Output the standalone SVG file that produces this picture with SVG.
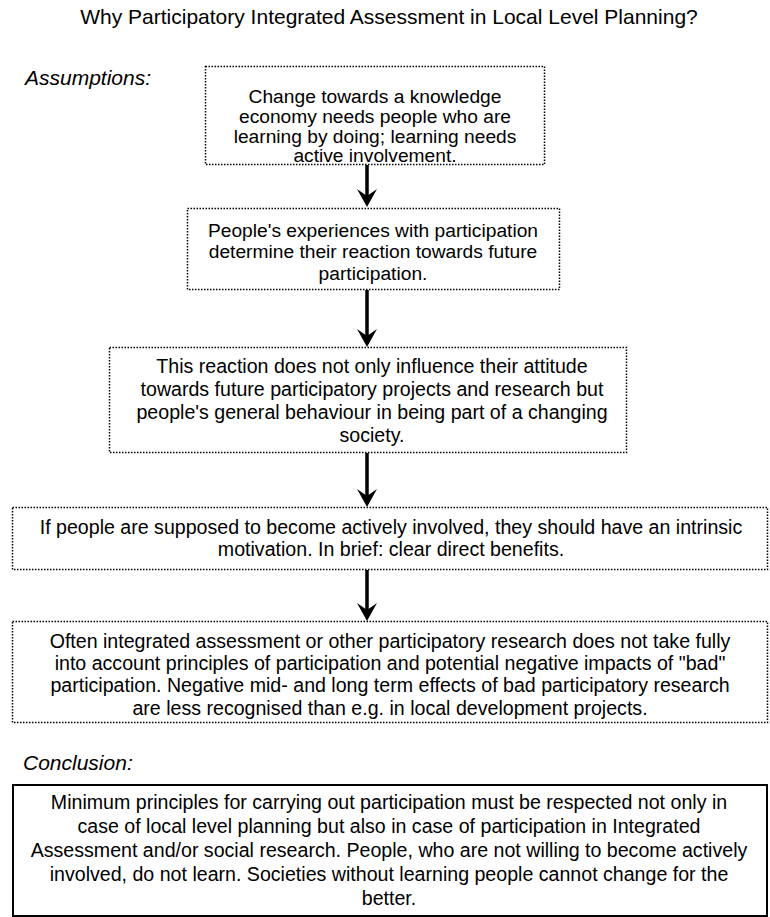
<svg xmlns="http://www.w3.org/2000/svg" width="770" height="917" viewBox="0 0 770 917">
<style>
  text { font-family: "Liberation Sans", Arial, sans-serif; fill: #000; }
  .t { font-size: 19.6px; text-anchor: middle; }
  .tn { font-size: 19.2px; text-anchor: middle; }
  .title { font-size: 21px; text-anchor: middle; }
  .lbl { font-size: 21px; font-style: italic; }
  .dot { fill: #fff; stroke: #000; stroke-width: 1.5; stroke-dasharray: 1.5 1.5; }
  .solid { fill: #fff; stroke: #000; stroke-width: 2; }
  .conn { stroke: #000; stroke-width: 3.5; fill: none; }
</style>
<defs>
  <marker id="ah" viewBox="0 0 18 20" refX="12" refY="10" markerWidth="18" markerHeight="20" markerUnits="userSpaceOnUse" orient="auto">
    <polygon points="0,0 18,10 0,20 7,10" fill="#000"/>
  </marker>
</defs>
<rect width="770" height="917" fill="#fff"/>

<text class="title" x="389" y="24">Why Participatory Integrated Assessment in Local Level Planning?</text>
<text class="lbl" x="25" y="85">Assumptions:</text>
<text class="lbl" x="23" y="770">Conclusion:</text>

<g id="connectors">
  <line class="conn" x1="367" y1="165" x2="367" y2="201" marker-end="url(#ah)"/>
  <line class="conn" x1="367" y1="290" x2="367" y2="341" marker-end="url(#ah)"/>
  <line class="conn" x1="367" y1="453" x2="367" y2="501" marker-end="url(#ah)"/>
  <line class="conn" x1="367" y1="570" x2="367" y2="615" marker-end="url(#ah)"/>
</g>

<g id="node1">
  <rect class="dot" x="205.5" y="66.5" width="339" height="98"/>
  <text class="tn" x="375" y="103">Change towards a knowledge</text>
  <text class="tn" x="375" y="123">economy needs people who are</text>
  <text class="tn" x="375" y="143">learning by doing; learning needs</text>
  <text class="tn" x="375" y="162">active involvement.</text>
</g>

<g id="node2">
  <rect class="dot" x="187.5" y="208.5" width="372" height="81"/>
  <text class="tn" x="373" y="237">People's experiences with participation</text>
  <text class="tn" x="373" y="258">determine their reaction towards future</text>
  <text class="tn" x="373" y="280">participation.</text>
</g>

<g id="node3">
  <rect class="dot" x="109.5" y="347.5" width="517" height="105"/>
  <text class="t" x="372" y="373">This reaction does not only influence their attitude</text>
  <text class="t" x="372" y="396">towards future participatory projects and research but</text>
  <text class="t" x="372" y="419">people's general behaviour in being part of a changing</text>
  <text class="t" x="372" y="442">society.</text>
</g>

<g id="node4">
  <rect class="dot" x="12.5" y="507.5" width="755" height="62"/>
  <text class="t" x="391" y="534">If people are supposed to become actively involved, they should have an intrinsic</text>
  <text class="t" x="391" y="556">motivation. In brief: clear direct benefits.</text>
</g>

<g id="node5">
  <rect class="dot" x="12.5" y="621.5" width="755" height="101"/>
  <text class="t" x="390" y="648">Often integrated assessment or other participatory research does not take fully</text>
  <text class="t" x="390" y="670">into account principles of participation and potential negative impacts of "bad"</text>
  <text class="t" x="390" y="692">participation. Negative mid- and long term effects of bad participatory research</text>
  <text class="t" x="390" y="715">are less recognised than e.g. in local development projects.</text>
</g>

<g id="node6">
  <rect class="solid" x="13" y="785" width="754" height="131"/>
  <text class="t" x="389" y="809">Minimum principles for carrying out participation must be respected not only in</text>
  <text class="t" x="389" y="833">case of local level planning but also in case of participation in Integrated</text>
  <text class="t" x="389" y="857">Assessment and/or social research. People, who are not willing to become actively</text>
  <text class="t" x="389" y="881">involved, do not learn. Societies without learning people cannot change for the</text>
  <text class="t" x="389" y="905">better.</text>
</g>
</svg>
